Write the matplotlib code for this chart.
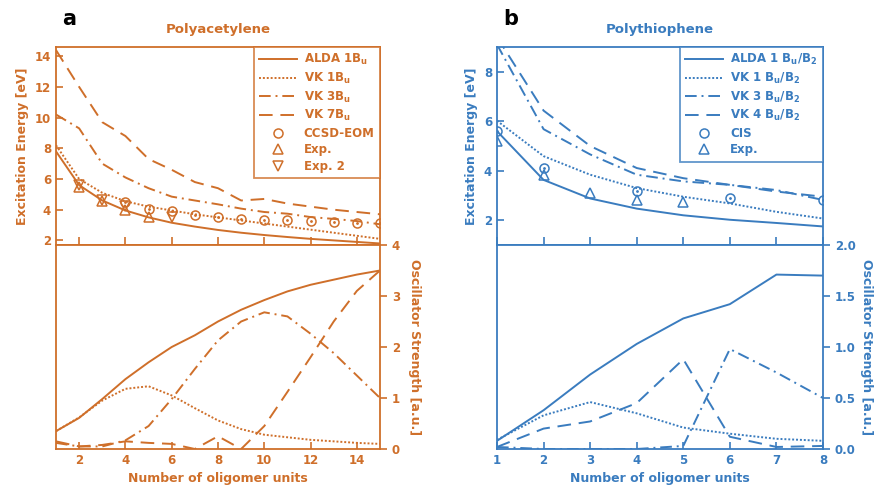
import matplotlib
matplotlib.use("Agg")
from matplotlib import pyplot as plt

plt.rcParams['font.family'] = ['DejaVu Sans']
plt.rcParams['mathtext.default'] = 'regular'

orange = '#cf6f2a'
blue = '#3a7cbf'

# ---- polyacetylene (a) ----
pa_n = list(range(1, 16))
pa_alda_e = [7.8, 5.6, 4.6, 3.95, 3.5, 3.15, 2.9, 2.68, 2.5, 2.35, 2.22, 2.1, 2.0, 1.9, 1.8]
pa_vk1_e = [8.2, 6.0, 5.1, 4.55, 4.2, 3.95, 3.7, 3.5, 3.3, 3.1, 2.9, 2.7, 2.5, 2.3, 2.1]
pa_vk3_e = [10.2, 9.3, 7.0, 6.1, 5.4, 4.85, 4.6, 4.35, 4.07, 3.85, 3.74, 3.52, 3.4, 3.26, 3.05]
pa_vk7_e = [14.4, 12.0, 9.7, 8.8, 7.3, 6.6, 5.8, 5.4, 4.6, 4.7, 4.4, 4.2, 4.0, 3.85, 3.7]
pa_ccsd_n = [4, 5, 6, 7, 8, 9, 10, 11, 12, 13, 14, 15]
pa_ccsd_e = [4.5, 4.07, 3.9, 3.63, 3.52, 3.4, 3.35, 3.3, 3.26, 3.2, 3.15, 3.13]
pa_exp_n = [2, 3, 4, 5]
pa_exp_e = [5.45, 4.55, 4.0, 3.5]
pa_exp2_n = [2, 3, 4, 6]
pa_exp2_e = [5.6, 4.6, 4.25, 3.55]

pa_alda_f = [0.35, 0.61, 0.98, 1.37, 1.7, 2.0, 2.23, 2.5, 2.73, 2.92, 3.09, 3.22, 3.32, 3.42, 3.5]
pa_vk1_f = [0.35, 0.62, 0.95, 1.18, 1.23, 1.05, 0.8, 0.56, 0.39, 0.28, 0.23, 0.18, 0.15, 0.12, 0.1]
pa_vk3_f = [0.12, 0.05, 0.05, 0.17, 0.45, 0.98, 1.57, 2.13, 2.5, 2.68, 2.6, 2.26, 1.88, 1.44, 1.0]
pa_vk7_f = [0.15, 0.05, 0.08, 0.15, 0.12, 0.1, 0.0, 0.25, 0.0, 0.45, 1.12, 1.8, 2.5, 3.1, 3.5]

# ---- polythiophene (b) ----
pt_n = list(range(1, 9))
pt_alda_e = [5.6, 3.63, 2.88, 2.47, 2.2, 2.02, 1.89, 1.75]
pt_vk1_e = [6.02, 4.59, 3.84, 3.3, 2.95, 2.68, 2.34, 2.07]
pt_vk3_e = [9.1, 5.68, 4.66, 3.84, 3.57, 3.43, 3.22, 2.82]
pt_vk4_e = [9.4, 6.43, 5.0, 4.11, 3.7, 3.43, 3.16, 2.95]
pt_cis_n = [1, 2, 4, 6, 8]
pt_cis_e = [5.6, 4.11, 3.2, 2.91, 2.82]
pt_exp_n = [1, 2, 3, 4, 5]
pt_exp_e = [5.2, 3.84, 3.12, 2.82, 2.72]

pt_alda_f = [0.08, 0.38, 0.73, 1.03, 1.28, 1.42, 1.71, 1.7]
pt_vk1_f = [0.09, 0.33, 0.46, 0.35, 0.21, 0.15, 0.1, 0.08]
pt_vk3_f = [0.02, 0.0, 0.0, 0.0, 0.03, 0.98, 0.75, 0.5]
pt_vk4_f = [0.02, 0.2, 0.27, 0.45, 0.88, 0.12, 0.02, 0.03]

styles = ['-', (0, (1, 1)), (0, (6, 2.5, 1, 2.5)), (0, (7, 4))]

W, H = 877, 494
fig = plt.figure(figsize=(W / 100, H / 100), dpi=100)


def box(x0, y0, x1, y1):
    return [x0 / W, 1 - y1 / H, (x1 - x0) / W, (y1 - y0) / H]


def style_ax(ax, c):
    for s in ax.spines.values():
        s.set_color(c)
        s.set_linewidth(1.3)
    ax.tick_params(colors=c, direction='in', length=5, width=1.2, labelsize=8.5)
    for lab in ax.get_xticklabels() + ax.get_yticklabels():
        lab.set_fontweight('bold')


def panel(x0, x1, c, n, e_lines, e_pts, f_lines, labels, pts_labels, xlim, xticks,
          ylim, yticks, flim, fticks, ftick_labels, title, letter, rlab_x):
    top = fig.add_axes(box(x0, 47, x1, 245))
    bot = fig.add_axes(box(x0, 245, x1, 449), sharex=top)
    for vals, ls, lab in zip(e_lines, styles, labels):
        top.plot(n, vals, color=c, ls=ls, lw=1.4, label=lab)
    mk = ['o', '^', 'v']
    for (px, py), m, lab in zip(e_pts, mk, pts_labels):
        top.plot(px, py, m, ms=6.5, mfc='none', mec=c, mew=1.1, color=c, label=lab)
        if m == 'o':
            top.plot(px, py, '.', ms=2, color=c)
    top.set_xlim(*xlim)
    top.set_ylim(*ylim)
    top.set_yticks(yticks)
    top.set_ylabel('Excitation Energy [eV]', color=c, fontsize=9, fontweight='bold')
    top.tick_params(labelbottom=False)
    top.set_title(title, color=c, fontsize=9.5, fontweight='bold', pad=10)
    leg = top.legend(loc='upper right', borderaxespad=0, fancybox=False,
                     edgecolor=c, fontsize=8.5, handlelength=3.2, labelspacing=0.3,
                     borderpad=0.45, handletextpad=0.6)
    leg.get_frame().set_linewidth(1.3)
    for t in leg.get_texts():
        t.set_color(c)
        t.set_fontweight('bold')
    top.text(0.02, 1.11, letter, transform=top.transAxes, fontsize=15,
             fontweight='bold', color='black')

    for vals, ls in zip(f_lines, styles):
        bot.plot(n, vals, color=c, ls=ls, lw=1.4)
    bot.set_ylim(*flim)
    bot.yaxis.tick_right()
    bot.yaxis.set_label_position('right')
    bot.set_yticks(fticks)
    bot.set_yticklabels(ftick_labels)
    bot.set_xticks(xticks)
    bot.set_ylabel('Oscillator Strength [a.u.]', color=c, fontsize=9,
                   fontweight='bold', rotation=270, va='center', ha='center')
    bot.yaxis.set_label_coords(1 + (rlab_x - x1) / (x1 - x0), 0.5)
    bot.set_xlabel('Number of oligomer units', color=c, fontsize=9, fontweight='bold')
    style_ax(top, c)
    style_ax(bot, c)
    top.tick_params(axis='x', length=6)
    bot.tick_params(axis='y', direction='out', length=5)
    bot.tick_params(axis='y', which='both', left=False, right=True)


panel(56, 380, orange, pa_n,
      [pa_alda_e, pa_vk1_e, pa_vk3_e, pa_vk7_e],
      [(pa_ccsd_n, pa_ccsd_e), (pa_exp_n, pa_exp_e), (pa_exp2_n, pa_exp2_e)],
      [pa_alda_f, pa_vk1_f, pa_vk3_f, pa_vk7_f],
      [r'ALDA 1B$_u$', r'VK 1B$_u$', r'VK 3B$_u$', r'VK 7B$_u$'],
      ['CCSD-EOM', 'Exp.', 'Exp. 2'],
      (1, 15), [2, 4, 6, 8, 10, 12, 14], (1.7, 14.6), [2, 4, 6, 8, 10, 12, 14],
      (0, 4), [0, 1, 2, 3, 4], ['0', '1', '2', '3', '4'], 'Polyacetylene', 'a', 414)

panel(497, 823, blue, pt_n,
      [pt_alda_e, pt_vk1_e, pt_vk3_e, pt_vk4_e],
      [(pt_cis_n, pt_cis_e), (pt_exp_n, pt_exp_e)],
      [pt_alda_f, pt_vk1_f, pt_vk3_f, pt_vk4_f],
      [r'ALDA 1 B$_u$/B$_2$', r'VK 1 B$_u$/B$_2$', r'VK 3 B$_u$/B$_2$', r'VK 4 B$_u$/B$_2$'],
      ['CIS', 'Exp.'],
      (1, 8), [1, 2, 3, 4, 5, 6, 7, 8], (1.0, 9.0), [2, 4, 6, 8],
      (0, 2), [0, 0.5, 1.0, 1.5, 2.0], ['0.0', '0.5', '1.0', '1.5', '2.0'],
      'Polythiophene', 'b', 867)

fig.savefig('out.png', dpi=100)
